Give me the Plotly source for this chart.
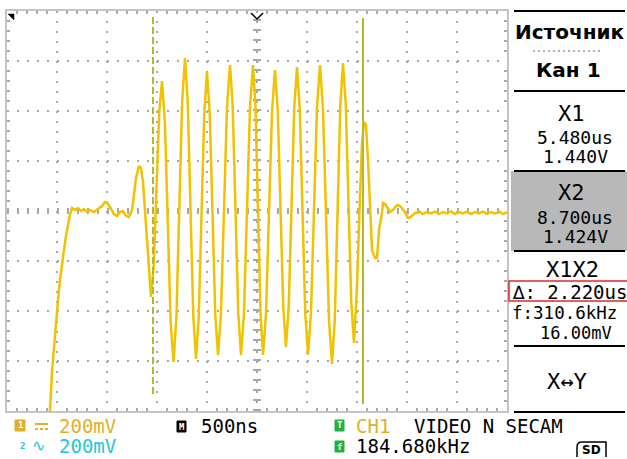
import plotly.graph_objects as go

# ---------------- data (CH1 trace, screen time in us, voltage in mV) ----------------
time_us = [
    0.42, 0.43, 0.45, 0.47, 0.49, 0.51, 0.53, 0.55, 0.57, 0.59, 0.61, 0.63,
    0.65, 0.68, 0.71, 0.74, 0.77, 0.80, 0.83, 0.87, 0.91, 0.95, 0.98, 1.01,
    1.04, 1.07, 1.10, 1.13, 1.16, 1.19, 1.22, 1.25, 1.27, 1.29, 1.32, 1.34,
    1.36, 1.38, 1.40, 1.42,
    1.44, 1.4675, 1.495, 1.5225,
    1.55, 1.579, 1.6075, 1.636,
    1.665, 1.694, 1.7225, 1.751,
    1.78, 1.8075, 1.835, 1.8625,
    1.89, 1.9175, 1.945, 1.9725,
    2.00, 2.0275, 2.055, 2.0825,
    2.11, 2.14, 2.17, 2.20,
    2.23, 2.2575, 2.285, 2.3125,
    2.34, 2.37, 2.40, 2.43,
    2.46, 2.485, 2.51, 2.535,
    2.56, 2.59, 2.62, 2.65,
    2.68, 2.7075, 2.735, 2.7625,
    2.79, 2.8175, 2.845, 2.8725,
    2.90, 2.9275, 2.955, 2.9825,
    3.01, 3.04, 3.07, 3.10,
    3.13, 3.16, 3.19, 3.22,
    3.25, 3.2775, 3.305, 3.3325,
    3.36, 3.3875, 3.415, 3.4425,
    3.47, 3.50, 3.53, 3.55, 3.57, 3.59, 3.61, 3.63, 3.65, 3.68, 3.70,
    3.72, 3.75, 3.76, 3.78, 3.80, 3.83, 3.86, 3.89, 3.91, 3.94, 3.97, 4.01,
    4.04, 4.08, 4.12, 4.16, 4.20, 4.24, 4.28, 4.32, 4.36, 4.40, 4.44, 4.48,
    4.52, 4.56, 4.60, 4.64, 4.68, 4.72, 4.76, 4.80, 4.84, 4.88, 4.92, 4.96,
    5.00,
]
ch1_mV = [
    -844, -800, -644, -536, -444, -356, -276, -204, -156, -100, -52, -16,
    12, 4, 12, 0, 8, -4, 4, -4, 8, 20, 36, 28,
    8, -12, -20, -4, 0, -20, -24, 4, 64, 132, 180, 172,
    116, -4, -136, -256,
    -344, -218, 88, 394,
    520, 356, -42, -440,
    -604, -426, 4, 434,
    612, 436, 10, -416,
    -592, -424, -18, 388,
    556, 391, -10, -411,
    -576, -407, 4, 415,
    584, 415, 4, -407,
    -576, -407, 4, 415,
    584, 415, 4, -407,
    -576, -410, -6, 398,
    564, 402, 10, -382,
    -544, -380, 16, 412,
    576, 408, 0, -408,
    -576, -407, 4, 415,
    584, 409, -14, -437,
    -612, -436, -10, 416,
    592, 428, 32, -364,
    -528, -300, 60, 272, 356, 344, 204, 44, -156, -188, -188,
    -76, -8, 32, 28, 16, -4, 4, 20, 24, 16, 0, -28,
    -24, -8, -2, -12, -4, -10, -2, -12, -4, -10, -2, -12,
    -4, -10, -2, -12, -4, -10, -2, -12, -4, -10, -2, -12,
    -4,
]

# cursor positions on screen (us) and their vertical extents (mV)
cursor_t = [1.46, 3.56]
cursor_top = [776, 772]
cursor_bottom = [-744, -772]

# readout texts
source_label = "Источник"
channel_label = "Кан 1"
x1_values = ["5.480us", "1.440V"]
x2_values = ["8.700us", "1.424V"]
delta_values = ["∆: 2.220us", "f:310.6kHz", "16.00mV"]
status_top = ["200mV", "500ns", "CH1", "VIDEO N SECAM"]
status_bottom = ["200mV", "184.680kHz"]

# ---------------- styling ----------------
MONO = "DejaVu Sans Mono"
SANS = "DejaVu Sans"
TRACE = "#F2C200"
CURSOR = "#B4B82A"
GOLD = "#E0B028"
CYAN = "#22C8D8"
GREEN = "#22B040"
GRID = "#A8A8A8"

W, H = 627, 459
L, R, T, B = 7, 507, 11, 411


def px(x):
    return (x - L) / (R - L)


def py(y):
    return (B - y) / (B - T)


fig = go.Figure()

fig.add_trace(go.Scatter(
    x=time_us, y=ch1_mV, mode="lines",
    line=dict(color=TRACE, width=2.5), hoverinfo="skip",
))
fig.add_trace(go.Scatter(
    x=[cursor_t[0], cursor_t[0]], y=[cursor_top[0], cursor_bottom[0]], mode="lines",
    line=dict(color=CURSOR, width=2, dash="7px,3px"), hoverinfo="skip",
))
fig.add_trace(go.Scatter(
    x=[cursor_t[1], cursor_t[1]], y=[cursor_top[1], cursor_bottom[1]], mode="lines",
    line=dict(color=CURSOR, width=2), hoverinfo="skip",
))

axis_common = dict(
    showticklabels=False, showgrid=True, gridcolor=GRID, gridwidth=2,
    griddash="2px,8px", zeroline=False, showline=True, linecolor="#C4C4C4",
    linewidth=2, mirror="allticks", ticks="", fixedrange=True,
)
fig.update_xaxes(range=[0, 5], tick0=0, dtick=0.5,
                 minor=dict(dtick=0.1, ticks="inside", ticklen=3, tickwidth=2,
                            tickcolor=GRID, showgrid=False),
                 **axis_common)
fig.update_yaxes(range=[-800, 800], tick0=0, dtick=200,
                 minor=dict(dtick=40, ticks="inside", ticklen=3, tickwidth=2,
                            tickcolor=GRID, showgrid=False),
                 **axis_common)

shapes = []
# centre crosshair tick marks
shapes.append(dict(type="line", xref="x", yref="y", x0=2.5, x1=2.5, y0=-800, y1=800,
                   line=dict(color=GRID, width=8, dash="2px,8px"), layer="below"))
shapes.append(dict(type="line", xref="x", yref="y", x0=0, x1=5, y0=0, y1=0,
                   line=dict(color=GRID, width=6, dash="2px,8px"), layer="below"))
# trigger marker at top centre and corner marker
shapes.append(dict(type="path", xref="paper", yref="paper",
                   path=f"M {px(251)},{py(13)} L {px(257)},{py(19)} L {px(263)},{py(13)}",
                   line=dict(color="black", width=1.5)))
shapes.append(dict(type="path", xref="paper", yref="paper",
                   path=f"M {px(8)},{py(14)} L {px(14)},{py(14)} L {px(14)},{py(20)} Z",
                   fillcolor="black", line=dict(color="black", width=0.5)))

# right menu panel
shapes.append(dict(type="rect", xref="paper", yref="paper",
                   x0=px(511), x1=px(627), y0=py(251), y1=py(171),
                   fillcolor="#B8B8B8", line=dict(width=0)))
for yy in [11, 91, 171, 251, 346, 412]:
    shapes.append(dict(type="line", xref="paper", yref="paper",
                       x0=px(514), x1=px(625), y0=py(yy), y1=py(yy),
                       line=dict(color="black", width=2)))
shapes.append(dict(type="line", xref="paper", yref="paper",
                   x0=px(533), x1=px(603), y0=py(51), y1=py(51),
                   line=dict(color="#9A9A9A", width=1.5, dash="2px,3px")))
shapes.append(dict(type="rect", xref="paper", yref="paper",
                   x0=px(509), x1=px(640), y0=py(301), y1=py(281),
                   line=dict(color="#E02828", width=1.5)))

# status bar icons
def icon(x0, y0, x1, y1, color):
    shapes.append(dict(type="rect", xref="paper", yref="paper",
                       x0=px(x0), x1=px(x1), y0=py(y1), y1=py(y0),
                       fillcolor=color, line=dict(color=color, width=1)))

icon(15, 420, 25, 431, GOLD)
icon(177, 421, 186, 432, "black")
icon(335, 420, 344, 431, GREEN)
icon(335, 441, 344, 452, GREEN)
# DC coupling symbol
shapes.append(dict(type="line", xref="paper", yref="paper",
                   x0=px(35), x1=px(48), y0=py(424), y1=py(424),
                   line=dict(color=GOLD, width=2)))
shapes.append(dict(type="line", xref="paper", yref="paper",
                   x0=px(35), x1=px(48), y0=py(429), y1=py(429),
                   line=dict(color=GOLD, width=2, dash="3px,2px")))
# SD card outline
shapes.append(dict(type="path", xref="paper", yref="paper",
                   path=(f"M {px(577)},{py(457)} L {px(577)},{py(447)} "
                         f"Q {px(577)},{py(442)} {px(582)},{py(442)} "
                         f"L {px(606)},{py(442)} L {px(606)},{py(457)}"),
                   line=dict(color="black", width=1.5)))

ann = []


def txt(s, x, y, size, color="black", anchor="center", bold=False, family=MONO, h=None):
    a = dict(text=f"<b>{s}</b>" if bold else s, x=px(x), y=py(y),
             xref="paper", yref="paper", xanchor=anchor, yanchor="middle",
             showarrow=False, font=dict(family=family, size=size, color=color))
    if h is not None:
        a["height"] = h
        a["borderpad"] = 0
    ann.append(a)


txt(source_label, 569, 32, 20, bold=True, family=SANS)
txt(channel_label, 568, 70, 20, bold=True, family=SANS)
txt("X1", 571, 113, 22)
txt(x1_values[0], 575, 137, 18, h=18)
txt(x1_values[1], 575, 156, 18, h=18)
txt("X2", 571, 192, 22)
txt(x2_values[0], 575, 217, 18, h=18)
txt(x2_values[1], 575, 236, 18, h=18)
txt("X1X2", 572, 269, 22)
txt(delta_values[0], 511, 291, 19, anchor="left", h=19)
txt(delta_values[1], 511, 312.5, 17.5, anchor="left", h=16)
txt(delta_values[2], 576, 333, 17, h=16)
txt("X↔Y", 567, 381, 22)

txt("1", 20, 425.5, 9, color="white", bold=True)
txt(status_top[0], 57, 426, 19, color=GOLD, anchor="left")
txt("2", 22, 446, 9, color=CYAN, bold=True)
txt("∿", 38, 446, 16, color=CYAN, family=SANS)
txt(status_bottom[0], 57, 446, 19, color=CYAN, anchor="left")
txt("M", 181.5, 426.5, 9, color="white", bold=True)
txt(status_top[1], 199, 426, 19, anchor="left")
txt("T", 339.5, 425.5, 9, color="white", bold=True)
txt(status_top[2], 354, 426, 19, color=GOLD, anchor="left")
txt(status_top[3], 412, 426, 19, anchor="left")
txt("f", 339.5, 446.5, 9, color="white", bold=True)
txt(status_bottom[1], 354, 446, 19, anchor="left")
txt("SD", 591, 450, 12, bold=True, family=SANS)

fig.update_layout(
    width=W, height=H, autosize=False,
    margin=dict(l=L, r=W - R, t=T, b=H - B),
    paper_bgcolor="white", plot_bgcolor="white",
    showlegend=False, shapes=shapes, annotations=ann,
)

fig.write_html(
    "out.html",
    config={"displayModeBar": False},
    post_script="document.body.style.margin='0';document.body.style.overflow='hidden';",
)
